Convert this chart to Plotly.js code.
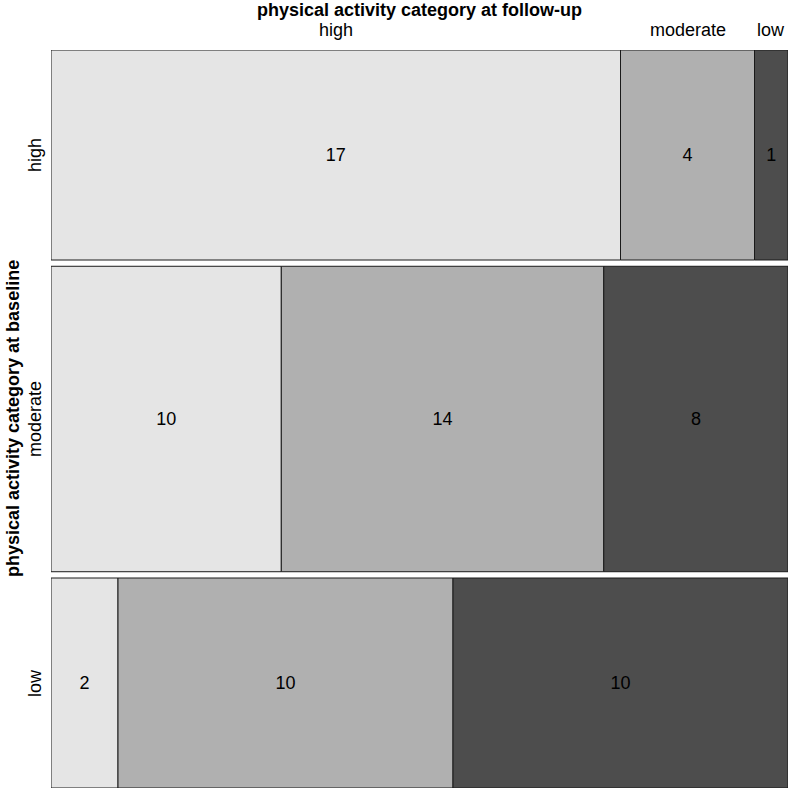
<!DOCTYPE html>
<html><head><meta charset="utf-8">
<script src="https://cdn.plot.ly/plotly-3.0.1.min.js"></script>
<style>html,body{margin:0;padding:0;background:#fff}#chart{width:790px;height:790px}</style>
</head><body><div id="chart"></div>
<script>
// Data
const baselineCats = ['high', 'moderate', 'low'];
const followupCats = ['high', 'moderate', 'low'];
const countsHigh = [17, 4, 1];
const countsModerate = [10, 14, 8];
const countsLow = [2, 10, 10];
const xTitle = 'physical activity category at follow-up';
const yTitle = 'physical activity category at baseline';

const rows = [countsHigh, countsModerate, countsLow];
const fills = ['#e5e5e5', '#b0b0b0', '#4d4d4d'];
const FONT = 'Liberation Sans, Arial, sans-serif';
const gap = 0.0085;
const rowTotals = rows.map(r => r.reduce((a, b) => a + b, 0));
const grand = rowTotals.reduce((a, b) => a + b, 0);
const avail = 1 - gap * (rows.length - 1);

const traces = [];
const annotations = [];
let yTop = 1;
rows.forEach((r, i) => {
  const h = avail * rowTotals[i] / grand;
  const y0 = yTop - h;
  let x0 = 0;
  r.forEach((v, j) => {
    const w = v / rowTotals[i];
    traces.push({
      type: 'bar', x: [x0 + w / 2], y: [h], base: [y0], width: [w],
      marker: {color: fills[j], line: {color: '#1a1a1a', width: 1}},
      text: [String(v)], textposition: 'inside', insidetextanchor: 'middle',
      textangle: 0, constraintext: 'none',
      textfont: {family: FONT, size: 18, color: '#000'},
      hoverinfo: 'skip', showlegend: false
    });
    if (i === 0) {
      annotations.push({x: x0 + w / 2, y: 1, xref: 'x', yref: 'paper', yshift: 20,
        text: followupCats[j], showarrow: false, yanchor: 'middle', xanchor: 'center',
        font: {family: FONT, size: 18, color: '#000'}});
    }
    x0 += w;
  });
  annotations.push({x: 0, xref: 'paper', xshift: -16, y: y0 + h / 2, yref: 'y',
    text: baselineCats[i], textangle: -90, showarrow: false, xanchor: 'center', yanchor: 'middle',
    font: {family: FONT, size: 18, color: '#000'}});
  yTop = y0 - gap;
});

annotations.push({x: 0.5, xref: 'paper', y: 1, yref: 'paper', yshift: 40,
  text: '<b>' + xTitle + '</b>', showarrow: false, xanchor: 'center', yanchor: 'middle',
  font: {family: FONT, size: 18, color: '#000'}});
annotations.push({x: 0, xref: 'paper', xshift: -38, y: 0.5, yref: 'paper',
  text: '<b>' + yTitle + '</b>', textangle: -90, showarrow: false, xanchor: 'center', yanchor: 'middle',
  font: {family: FONT, size: 18, color: '#000'}});

const layout = {
  width: 790, height: 790,
  margin: {l: 51, r: 2, t: 50, b: 2},
  paper_bgcolor: '#fff', plot_bgcolor: '#fff',
  barmode: 'overlay',
  xaxis: {range: [0, 1], visible: false, fixedrange: true},
  yaxis: {range: [0, 1], visible: false, fixedrange: true},
  annotations: annotations,
  showlegend: false
};
Plotly.newPlot('chart', traces, layout, {displayModeBar: false, staticPlot: true});
</script></body></html>
